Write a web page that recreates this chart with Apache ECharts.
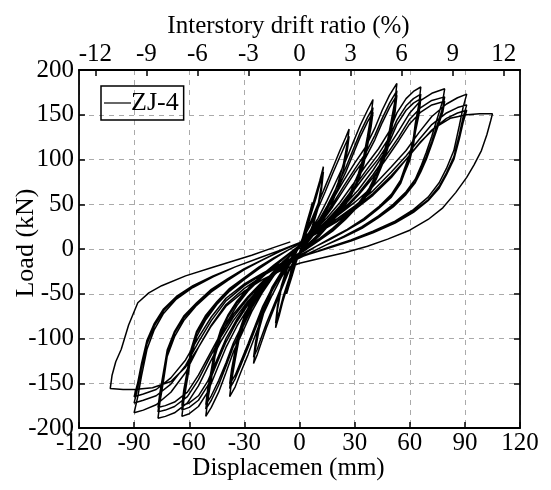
<!DOCTYPE html>
<html>
<head>
<meta charset="utf-8">
<script src="https://cdn.jsdelivr.net/npm/echarts@6/dist/echarts.min.js"></script>
<style>
  html, body { margin: 0; padding: 0; background: #fff; }
  #main { width: 551px; height: 490px; }
</style>
</head>
<body>
<div id="main"></div>
<script>
// Cyclic load–displacement record of specimen ZJ-4, one array per displacement level.
// Each point is [displacement (mm), load (kN)].
const level07 = [[0,0],[2,15],[4,30],[6,44],[7,52],[6,38],[4,20],[2,6],[0,-4],[-2,-16],[-4,-30],[-6,-43],[-7,-50],[-6,-36],[-4,-19],[-2,-5],[0,4]];

const level13 = [
  [2,14],[5,34],[8,55],[11,76],[13,92],[12,72],[10,48],[7,26],[4,10],[0,-4],
  [-3,-18],[-6,-38],[-9,-58],[-11,-74],[-13,-88],[-12,-68],[-10,-45],[-7,-24],[-4,-9],[0,4],
  [3,18],[6,37],[9,57],[11,72],[13,86],[12,67],[10,45],[7,24],[4,9],[0,-4],
  [-3,-17],[-6,-35],[-9,-54],[-11,-70],[-13,-83],[-12,-64],[-10,-42],[-7,-22],[-4,-8],[0,4]
];

const level27 = [
  [2,14],[6,30],[10,50],[14,70],[18,90],[22,110],[25,124],[27,134],
  [26,118],[24,96],[21,74],[17,52],[12,32],[7,16],[2,2],[-2,-10],
  [-6,-26],[-10,-46],[-14,-67],[-18,-88],[-21,-106],[-23,-118],[-25,-128],
  [-24,-112],[-22,-90],[-19,-68],[-15,-47],[-10,-28],[-5,-12],[0,2],
  [2,12],[6,27],[10,45],[14,64],[18,84],[22,103],[25,117],[27,126],
  [26,110],[24,89],[21,68],[17,48],[12,29],[7,14],[2,1],[-2,-10],
  [-6,-24],[-10,-43],[-14,-63],[-18,-83],[-21,-100],[-23,-112],[-25,-121],
  [-24,-105],[-22,-84],[-19,-63],[-15,-43],[-10,-26],[-5,-11],[0,2]
];

const level40 = [
  [0,6],[5,18],[10,34],[15,54],[20,76],[25,98],[29,118],[33,138],[37,155],[40,167],
  [39,150],[37,126],[35,104],[32,84],[28,65],[23,48],[17,32],[11,18],[5,6],[0,-4],
  [-5,-16],[-10,-32],[-15,-52],[-20,-74],[-24,-96],[-28,-118],[-32,-138],[-35,-154],[-38,-165],
  [-37,-148],[-35,-124],[-33,-102],[-30,-82],[-26,-63],[-21,-46],[-15,-30],[-9,-16],[-3,-4],[2,6],
  [5,16],[10,30],[15,48],[20,68],[25,90],[29,110],[33,130],[37,147],[40,158],
  [39,142],[37,119],[35,98],[32,79],[28,61],[23,45],[17,30],[11,16],[5,5],[0,-5],
  [-5,-15],[-10,-29],[-15,-47],[-20,-68],[-24,-89],[-28,-110],[-32,-130],[-35,-145],[-38,-156],
  [-37,-140],[-35,-117],[-33,-96],[-30,-77],[-26,-59],[-21,-43],[-15,-28],[-9,-15],[-3,-3],[2,6],
  [5,15],[10,28],[15,45],[20,64],[25,85],[29,105],[33,125],[37,142],[40,153],
  [39,137],[37,115],[35,95],[32,76],[28,59],[23,43],[17,29],[11,15],[5,4],[0,-5],
  [-5,-14],[-10,-27],[-15,-44],[-20,-64],[-24,-85],[-28,-106],[-32,-126],[-35,-141],[-38,-151],
  [-37,-135],[-35,-113],[-33,-93],[-30,-75],[-26,-57],[-21,-42],[-15,-27],[-9,-14],[-3,-3],[2,6]
];

const level53 = [
  [6,20],[12,36],[18,55],[24,76],[30,96],[36,114],[41,135],[45,155],[49,172],[53,185],
  [52,166],[50,144],[48,122],[45,102],[42,85],[38,68],[32,51],[25,36],[18,23],[11,12],[4,2],[-2,-7],
  [-8,-16],[-14,-30],[-20,-48],[-26,-70],[-31,-93],[-36,-115],[-40,-138],[-44,-160],[-48,-177],[-51,-187],
  [-50,-170],[-48,-146],[-46,-120],[-43,-99],[-39,-80],[-34,-63],[-28,-47],[-21,-33],[-14,-20],[-7,-8],[0,4],
  [6,18],[12,32],[18,50],[24,70],[30,89],[36,107],[41,127],[45,146],[49,163],[53,177],
  [52,158],[50,137],[48,116],[45,97],[42,81],[38,65],[32,49],[25,34],[18,21],[11,10],[4,1],[-2,-8],
  [-8,-15],[-14,-28],[-20,-45],[-26,-66],[-31,-88],[-36,-109],[-40,-131],[-44,-152],[-48,-169],[-51,-179],
  [-50,-162],[-48,-139],[-46,-114],[-43,-94],[-39,-76],[-34,-60],[-28,-45],[-21,-31],[-14,-19],[-7,-7],[0,4],
  [6,17],[12,30],[18,47],[24,66],[30,85],[36,102],[41,122],[45,141],[49,158],[53,172],
  [52,153],[50,133],[48,112],[45,94],[42,79],[38,63],[32,48],[25,33],[18,20],[11,10],[4,0],[-2,-8],
  [-8,-14],[-14,-26],[-20,-43],[-26,-63],[-31,-84],[-36,-105],[-40,-127],[-44,-147],[-48,-164],[-51,-174],
  [-50,-157],[-48,-135],[-46,-111],[-43,-91],[-39,-74],[-34,-58],[-28,-44],[-21,-30],[-14,-18],[-7,-7],[0,4]
];

const level66 = [
  [8,20],[15,35],[22,52],[29,72],[36,93],[43,112],[49,132],[53,152],[58,168],[62,176],[66,181],
  [65,162],[63,140],[62,124],[60,106],[57,89],[55,77],[50,61],[43,47],[35,34],[26,22],[17,12],[9,3],[2,-5],
  [-6,-14],[-13,-27],[-20,-43],[-27,-63],[-34,-86],[-40,-110],[-45,-135],[-50,-160],[-55,-176],[-60,-184],[-64,-187],
  [-63,-170],[-61,-145],[-59,-120],[-56,-98],[-51,-79],[-45,-62],[-38,-47],[-30,-34],[-22,-22],[-14,-11],[-6,-1],[2,8],
  [8,18],[15,32],[22,48],[29,67],[36,87],[43,106],[49,125],[53,144],[58,160],[62,168],[66,173],
  [65,155],[63,134],[62,119],[60,102],[57,86],[55,75],[50,59],[43,46],[35,33],[26,21],[17,11],[9,3],[2,-6],
  [-6,-13],[-13,-25],[-20,-40],[-27,-59],[-34,-81],[-40,-104],[-45,-128],[-50,-153],[-55,-169],[-60,-177],[-64,-180],
  [-63,-163],[-61,-139],[-59,-115],[-56,-94],[-51,-76],[-45,-60],[-38,-45],[-30,-33],[-22,-21],[-14,-10],[-6,-1],[2,8],
  [8,17],[15,30],[22,46],[29,64],[36,83],[43,101],[49,120],[53,139],[58,155],[62,163],[66,168],
  [65,150],[63,130],[62,116],[60,99],[57,84],[55,73],[50,58],[43,45],[35,32],[26,21],[17,11],[9,3],[2,-6],
  [-6,-12],[-13,-24],[-20,-38],[-27,-57],[-34,-78],[-40,-100],[-45,-124],[-50,-148],[-55,-164],[-60,-172],[-64,-175],
  [-63,-158],[-61,-135],[-59,-112],[-56,-92],[-51,-74],[-45,-59],[-38,-44],[-30,-32],[-22,-20],[-14,-10],[-6,-1],[2,8]
];

const level79 = [
  [8,18],[16,32],[24,48],[32,66],[40,88],[47,110],[54,132],[60,152],[66,166],[72,174],[79,179],
  [78,166],[75,146],[72,126],[69,108],[66,92],[63,78],[58,64],[51,50],[43,37],[34,25],[24,14],[14,4],[5,-5],
  [-4,-14],[-12,-26],[-20,-40],[-28,-58],[-36,-80],[-43,-104],[-49,-128],[-55,-153],[-61,-172],[-68,-183],[-73,-187],[-77,-189],
  [-76,-172],[-74,-147],[-72,-120],[-68,-98],[-63,-80],[-56,-63],[-48,-48],[-39,-35],[-30,-23],[-20,-12],[-10,-2],[0,7],
  [8,17],[16,30],[24,45],[32,62],[40,83],[47,104],[54,125],[60,145],[66,158],[72,166],[79,170],
  [78,158],[75,139],[72,120],[69,103],[66,88],[63,75],[58,62],[51,48],[43,36],[34,24],[24,13],[14,4],[5,-5],
  [-4,-13],[-12,-24],[-20,-38],[-28,-55],[-36,-76],[-43,-99],[-49,-122],[-55,-146],[-61,-165],[-68,-176],[-73,-180],[-77,-182],
  [-76,-166],[-74,-141],[-72,-116],[-68,-94],[-63,-77],[-56,-61],[-48,-46],[-39,-34],[-30,-22],[-20,-12],[-10,-2],[0,7],
  [8,16],[16,29],[24,43],[32,60],[40,80],[47,100],[54,121],[60,140],[66,153],[72,161],[79,165],
  [78,153],[75,135],[72,117],[69,100],[66,86],[63,74],[58,61],[51,47],[43,35],[34,23],[24,13],[14,4],[5,-5],
  [-4,-12],[-12,-23],[-20,-36],[-28,-53],[-36,-73],[-43,-95],[-49,-118],[-55,-141],[-61,-160],[-68,-171],[-73,-175],[-77,-177],
  [-76,-161],[-74,-137],[-72,-113],[-68,-92],[-63,-75],[-56,-60],[-48,-45],[-39,-33],[-30,-22],[-20,-12],[-10,-2],[0,7]
];

const level91 = [
  [10,22],[20,36],[30,52],[40,70],[50,92],[58,110],[65,130],[72,148],[80,162],[86,169],[91,173],
  [89,158],[87,138],[84,110],[80,90],[76,74],[70,58],[62,44],[52,31],[40,20],[28,10],[16,2],[5,-6],[-5,-13],
  [-10,-18],[-20,-30],[-30,-44],[-40,-62],[-48,-85],[-55,-110],[-62,-138],[-70,-160],[-78,-174],[-85,-180],[-90,-183],
  [-88,-165],[-86,-142],[-83,-112],[-79,-90],[-74,-72],[-67,-56],[-58,-43],[-47,-31],[-35,-20],[-22,-10],[-10,-1],[0,7],
  [10,20],[20,33],[30,48],[40,65],[50,86],[58,104],[65,122],[72,139],[80,152],[86,158],[91,161],
  [89,147],[87,128],[84,103],[80,85],[76,70],[70,55],[62,42],[52,30],[40,19],[28,10],[16,2],[5,-6],[-5,-13],
  [-10,-17],[-20,-28],[-30,-41],[-40,-58],[-48,-80],[-55,-104],[-62,-130],[-70,-151],[-78,-164],[-85,-169],[-90,-172],
  [-88,-155],[-86,-133],[-83,-106],[-79,-86],[-74,-69],[-67,-54],[-58,-42],[-47,-30],[-35,-20],[-22,-10],[-10,-1],[0,7],
  [10,19],[20,31],[30,46],[40,62],[50,82],[58,100],[65,117],[72,133],[80,146],[86,152],[91,155],
  [89,141],[87,123],[84,100],[80,83],[76,68],[70,54],[62,41],[52,29],[40,18],[28,9],[16,1],[5,-6],[-5,-13],
  [-10,-16],[-20,-27],[-30,-39],[-40,-55],[-48,-76],[-55,-99],[-62,-124],[-70,-144],[-78,-157],[-85,-162],[-90,-165],
  [-88,-149],[-86,-128],[-83,-102],[-79,-83],[-74,-67],[-67,-53],[-58,-41],[-47,-30],[-35,-20],[-22,-10],[-10,-1],[0,7]
];

const level105 = [
  [10,18],[20,30],[30,44],[40,60],[50,80],[58,100],[66,120],[74,136],[82,146],[91,150],[98,151],[105,151],
  [104,143],[102,128],[99,110],[95,94],[91,80],[85,63],[78,46],[70,33],[60,21],[48,11],[37,3],[25,-4],[12,-10],[0,-16],
  [-10,-24],[-20,-34],[-30,-47],[-40,-64],[-48,-86],[-55,-110],[-62,-132],[-70,-148],[-80,-155],[-90,-157],[-96,-157],[-103,-156],
  [-102,-141],[-100,-126],[-97,-112],[-93,-85],[-88,-60],[-82,-49],[-75,-41],[-62,-30],[-48,-21],[-37,-14],[-26,-7],[-15,1],[-5,8]
];

// Tick values of the axes and the storey height linking displacement to drift ratio
const dispTicks = [-120, -90, -60, -30, 0, 30, 60, 90, 120];
const driftTicks = [-12, -9, -6, -3, 0, 3, 6, 9, 12];
const loadTicks = [-200, -150, -100, -50, 0, 50, 100, 150, 200];
const storeyHeight = 926; // mm

const loadPath = [].concat(level07, level13, level27, level40, level53, level66, level79, level91, level105);
const driftLimit = dispTicks[dispTicks.length - 1] / storeyHeight * 100;

const FONT = '"Liberation Serif", "Times New Roman", Times, serif';
const axisText = { color: '#000', fontFamily: FONT, fontSize: 25 };
const titleText = { color: '#000', fontFamily: FONT, fontSize: 25 };
const frame = { lineStyle: { color: '#000', width: 1.8 } };
const tickStyle = { inside: true, length: 6, lineStyle: { color: '#000', width: 1.5 } };
const gridLine = { show: true, lineStyle: { color: '#aaa', type: [5, 5], width: 1 } };

const chart = echarts.init(document.getElementById('main'));
chart.setOption({
  animation: false,
  backgroundColor: '#fff',
  grid: { left: 79, right: 31, top: 70, bottom: 62, outerBoundsMode: 'none', containLabel: false },
  legend: {
    left: 101, top: 86,
    data: ['ZJ-4'],
    icon: 'rect', itemWidth: 27, itemHeight: 1.2,
    padding: [4, 5, 4, 3],
    borderColor: '#000', borderWidth: 1.5,
    textStyle: { color: '#000', fontFamily: FONT, fontSize: 26, padding: [0, 0, 0, -5] }
  },
  xAxis: [
    {
      type: 'value', position: 'bottom', min: dispTicks[0], max: dispTicks[dispTicks.length - 1], interval: 30,
      name: 'Displacemen (mm)', nameLocation: 'middle', nameGap: 28, nameMoveOverlap: false,
      nameTextStyle: Object.assign({}, titleText, { padding: [0, 22, 0, 0] }),
      axisLine: Object.assign({ onZero: false }, frame),
      axisTick: tickStyle,
      axisLabel: Object.assign({ margin: 3 }, axisText),
      splitLine: gridLine
    },
    {
      type: 'value', position: 'top', min: -driftLimit, max: driftLimit,
      name: 'Interstory drift ratio (%)', nameLocation: 'middle', nameGap: 31, nameMoveOverlap: false,
      nameTextStyle: Object.assign({}, titleText, { padding: [0, 22, 0, 0] }),
      axisLine: Object.assign({ onZero: false }, frame),
      axisTick: Object.assign({ customValues: driftTicks }, tickStyle),
      axisLabel: Object.assign({ margin: 3, customValues: driftTicks }, axisText),
      splitLine: { show: false }
    }
  ],
  yAxis: [
    {
      type: 'value', position: 'left', min: loadTicks[0], max: loadTicks[loadTicks.length - 1], interval: 50,
      name: 'Load (kN)', nameLocation: 'middle', nameGap: 40, nameMoveOverlap: false,
      nameTextStyle: Object.assign({}, titleText, { fontSize: 26, padding: [0, 0, 0, 12] }),
      axisLine: Object.assign({ onZero: false }, frame),
      axisTick: tickStyle,
      axisLabel: Object.assign({ margin: 5 }, axisText),
      splitLine: gridLine
    },
    {
      type: 'value', position: 'right', min: loadTicks[0], max: loadTicks[loadTicks.length - 1], interval: 50,
      axisLine: Object.assign({ onZero: false }, frame),
      axisTick: tickStyle,
      axisLabel: { show: false },
      splitLine: { show: false }
    }
  ],
  series: [{
    name: 'ZJ-4',
    type: 'line',
    xAxisIndex: 0, yAxisIndex: 0,
    data: loadPath,
    showSymbol: false, symbol: 'none',
    lineStyle: { color: '#000', width: 1.5 },
    itemStyle: { color: '#000' },
    clip: true
  }]
});
</script>
</body>
</html>
